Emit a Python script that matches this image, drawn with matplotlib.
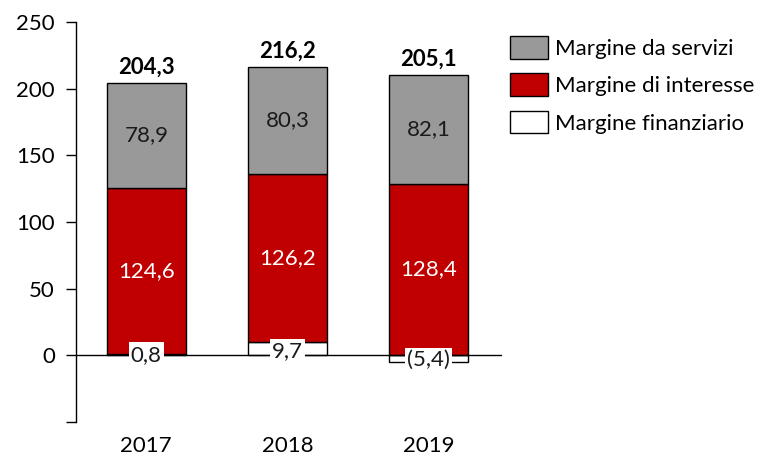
import matplotlib
matplotlib.use("Agg")
import matplotlib.pyplot as plt
import numpy as np

years = ["2017", "2018", "2019"]
finanziario = [0.8, 9.7, -5.4]
interesse = [124.6, 126.2, 128.4]
servizi = [78.9, 80.3, 82.1]
totali = [204.3, 216.2, 205.1]
yticks = [-50, 0, 50, 100, 150, 200, 250]

plt.rcParams['font.family'] = ['Lato', 'DejaVu Sans']

def fmt(v):
    s = f"{abs(v):.1f}".replace(".", ",")
    return f"({s})" if v < 0 else s

fig = plt.figure(figsize=(7.65, 4.57), dpi=100)
ax = fig.add_axes([0.099, 0.077, 0.557, 0.875])

x = np.arange(len(years))
w = 0.56
fin = np.array(finanziario)
intr = np.array(interesse)
serv = np.array(servizi)
base_int = np.where(fin > 0, fin, 0)
base_serv = base_int + intr

b_fin = ax.bar(x, fin, w, color="white", edgecolor="black", linewidth=1, label="Margine finanziario", zorder=2)
b_int = ax.bar(x, intr, w, bottom=base_int, color="#C00000", edgecolor="black", linewidth=1, label="Margine di interesse", zorder=2)
b_serv = ax.bar(x, serv, w, bottom=base_serv, color="#999999", edgecolor="black", linewidth=1, label="Margine da servizi", zorder=2)

fs = 16
for i in range(len(x)):
    ax.text(x[i], base_serv[i] + serv[i] / 2, fmt(serv[i]), ha="center", va="center", fontsize=fs, color="#1a1a1a", zorder=4)
    ax.text(x[i], base_int[i] + intr[i] / 2, fmt(intr[i]), ha="center", va="center", fontsize=fs, color="white", zorder=4)
    yl = fin[i] / 2 - 1 if fin[i] < 0 else min(fin[i] / 2, 3)
    ax.text(x[i], yl, fmt(fin[i]), ha="center", va="center", fontsize=fs, color="#1a1a1a", zorder=5,
            bbox=dict(boxstyle="square,pad=0.1", facecolor="white", edgecolor="none"))
    top = base_serv[i] + serv[i]
    ax.text(x[i], top + 4, fmt(totali[i]), ha="center", va="bottom", fontsize=fs, fontweight="bold", color="black")

ax.axhline(0, color="black", linewidth=1, zorder=3)
ax.set_xlim(-0.5, 2.52)
ax.set_ylim(-50, 250)
ax.set_yticks(yticks)
ax.set_yticklabels([str(t) if t >= 0 else "" for t in yticks], fontsize=fs)
ax.set_xticks(x)
ax.set_xticklabels(years, fontsize=fs)
ax.tick_params(axis="x", length=0, pad=10)
ax.tick_params(axis="y", length=7, width=1, direction="out", pad=8)
for s in ["top", "right", "bottom"]:
    ax.spines[s].set_visible(False)
ax.spines["left"].set_linewidth(1)

handles = [b_serv, b_int, b_fin]
leg = fig.legend(handles, [h.get_label() for h in handles], loc="upper left",
                 bbox_to_anchor=(0.64, 0.965), frameon=False, fontsize=fs,
                 handlelength=1.75, handleheight=1.2, handletextpad=0.3, labelspacing=0.65)

fig.savefig("out.png", dpi=100)
